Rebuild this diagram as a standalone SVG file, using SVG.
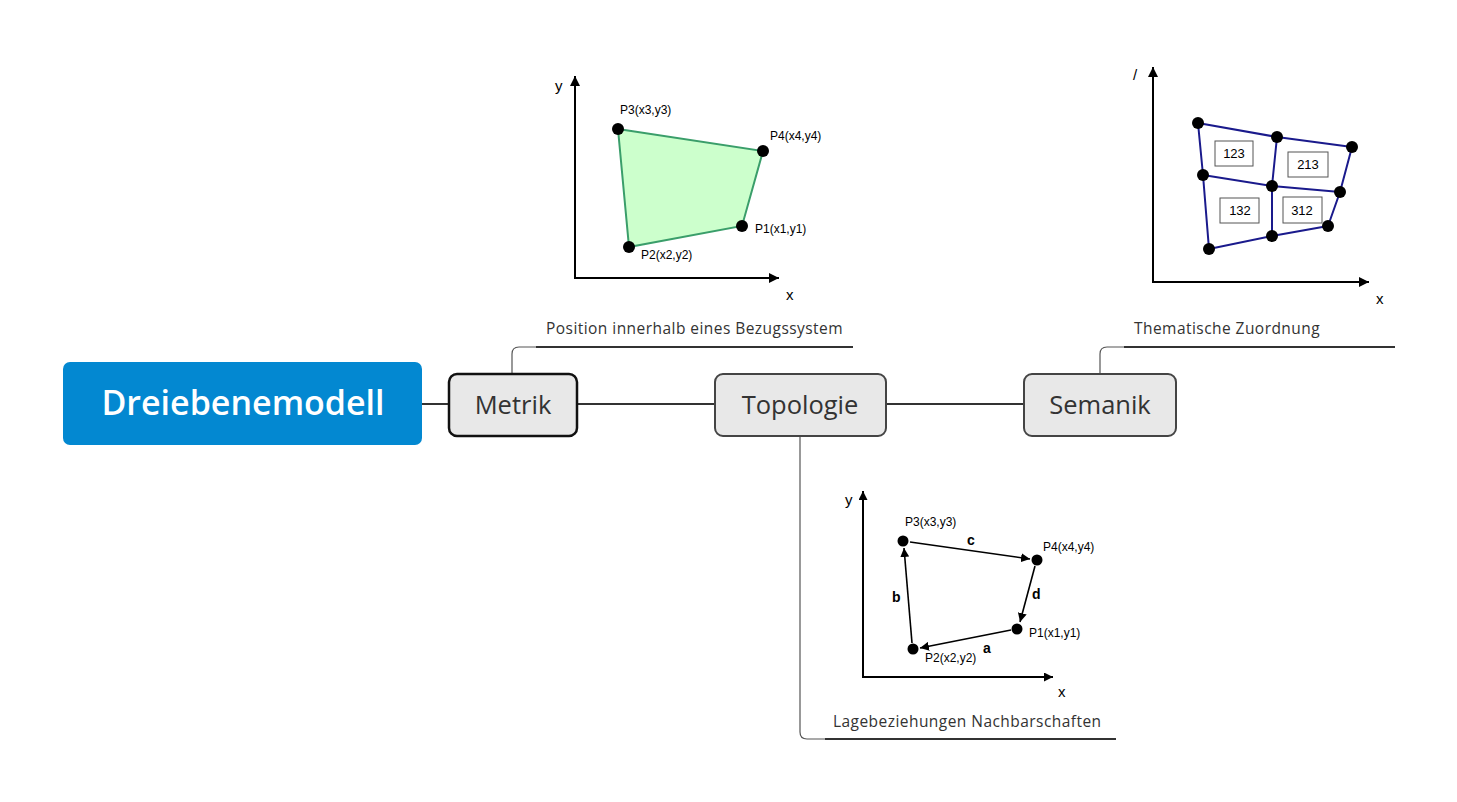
<svg xmlns="http://www.w3.org/2000/svg" width="1457" height="802" viewBox="0 0 1457 802">
<defs>
<style>
.topic{fill:#E8E8E8;stroke:#444;stroke-width:2}
.tt{font-family:"Open Sans","Noto Sans",sans-serif;font-size:25.5px;font-weight:500;fill:#333;text-anchor:middle}
.sub{font-family:"Open Sans","Noto Sans",sans-serif;font-size:15.5px;letter-spacing:0.45px;fill:#333}
.conn{stroke:#333;stroke-width:2;fill:none}
.thin{stroke:#555;stroke-width:1.2;fill:none}
.ax{stroke:#000;stroke-width:2;fill:none}
.lbl{font-family:"Liberation Sans",Arial,sans-serif;font-size:12px;fill:#000}
.axl{font-family:"Liberation Sans",Arial,sans-serif;font-size:15px;fill:#000}
.dot{fill:#000}
.nav{stroke:#1a1a8c;stroke-width:2;fill:none}
.cell{fill:#fff;stroke:#555;stroke-width:1}
.ct{font-family:"Liberation Sans",Arial,sans-serif;font-size:13px;fill:#000;text-anchor:middle}
.edge{stroke:#000;stroke-width:1.6;fill:none}
.el{font-family:"Liberation Sans",Arial,sans-serif;font-size:14px;font-weight:bold;fill:#000}
</style>
<marker id="ah" viewBox="0 0 10 10" refX="10" refY="5" markerWidth="10" markerHeight="10" markerUnits="userSpaceOnUse" orient="auto"><path d="M0,0 L10,5 L0,10 z" fill="#000"/></marker>
<marker id="ahs" viewBox="0 0 10 10" refX="10" refY="5" markerWidth="9" markerHeight="9" markerUnits="userSpaceOnUse" orient="auto"><path d="M0,0 L10,5 L0,10 z" fill="#000"/></marker>
</defs>
<rect width="1457" height="802" fill="#fff"/>

<g id="connectors">
<line class="conn" x1="422" y1="404" x2="449" y2="404"/>
<line class="conn" x1="577" y1="404" x2="715" y2="404"/>
<line class="conn" x1="886" y1="404" x2="1024" y2="404"/>
<path class="thin" d="M512,374 V354 Q512,347 519,347 H536"/>
<line class="conn" x1="536" y1="347" x2="853" y2="347"/>
<path class="thin" d="M1100,374 V354 Q1100,347 1107,347 H1124"/>
<line class="conn" x1="1124" y1="347" x2="1395" y2="347"/>
<path class="thin" d="M800,436 V732 Q800,739 807,739 H825"/>
<line class="conn" x1="825" y1="739" x2="1116" y2="739"/>
</g>

<g id="root">
<rect x="63" y="362" width="359" height="83" rx="7" fill="#0388D1"/>
<text x="243" y="415" font-family="'Open Sans','Noto Sans',sans-serif" font-size="34" font-weight="600" fill="#fff" text-anchor="middle">Dreiebenemodell</text>
</g>

<g id="metrik">
<rect x="449" y="374" width="128" height="62" rx="8" fill="#E8E8E8" stroke="#111" stroke-width="2.5"/>
<text class="tt" x="513" y="414">Metrik</text>
<text class="sub" x="546" y="334">Position innerhalb eines Bezugssystem</text>
</g>

<g id="topologie">
<rect class="topic" x="715" y="374" width="171" height="62" rx="8"/>
<text class="tt" x="800" y="414">Topologie</text>
<text class="sub" x="833" y="727">Lagebeziehungen Nachbarschaften</text>
</g>

<g id="semanik">
<rect class="topic" x="1024" y="374" width="152" height="62" rx="8"/>
<text class="tt" x="1100" y="414">Semanik</text>
<text class="sub" x="1134" y="334">Thematische Zuordnung</text>
</g>

<g id="metrik-figure">
<line class="ax" x1="575" y1="278" x2="575" y2="76" marker-end="url(#ah)"/>
<line class="ax" x1="574" y1="278" x2="779" y2="278" marker-end="url(#ah)"/>
<text class="axl" x="555" y="91">y</text>
<text class="axl" x="786" y="300">x</text>
<polygon points="618,129 763,151 742,226 629,247" fill="#CCFFCC" stroke="#3a9e6a" stroke-width="2"/>
<circle class="dot" cx="618" cy="129" r="6"/>
<circle class="dot" cx="763" cy="151" r="6"/>
<circle class="dot" cx="742" cy="226" r="6"/>
<circle class="dot" cx="629" cy="247" r="6"/>
<text class="lbl" x="620" y="114">P3(x3,y3)</text>
<text class="lbl" x="770" y="140">P4(x4,y4)</text>
<text class="lbl" x="755" y="233">P1(x1,y1)</text>
<text class="lbl" x="641" y="259">P2(x2,y2)</text>
</g>

<g id="semanik-figure">
<line class="ax" x1="1153" y1="282" x2="1153" y2="67" marker-end="url(#ah)"/>
<line class="ax" x1="1152" y1="282" x2="1369" y2="282" marker-end="url(#ah)"/>
<text class="axl" x="1133" y="80">/</text>
<text class="axl" x="1376" y="304">x</text>
<polyline class="nav" points="1198,123 1277,137 1352,147"/>
<polyline class="nav" points="1203,175 1272,186 1340,192"/>
<polyline class="nav" points="1209,249 1272,236 1328,226"/>
<polyline class="nav" points="1198,123 1203,175 1209,249"/>
<polyline class="nav" points="1277,137 1272,186 1272,236"/>
<polyline class="nav" points="1352,147 1340,192 1328,226"/>
<rect class="cell" x="1215" y="141" width="38" height="25"/>
<rect class="cell" x="1288" y="152" width="40" height="25"/>
<rect class="cell" x="1220" y="198" width="39" height="25"/>
<rect class="cell" x="1283" y="197" width="39" height="26"/>
<text class="ct" x="1234" y="158">123</text>
<text class="ct" x="1308" y="169">213</text>
<text class="ct" x="1240" y="215">132</text>
<text class="ct" x="1302" y="215">312</text>
<circle class="dot" cx="1198" cy="123" r="6"/>
<circle class="dot" cx="1277" cy="137" r="6"/>
<circle class="dot" cx="1352" cy="147" r="6"/>
<circle class="dot" cx="1203" cy="175" r="6"/>
<circle class="dot" cx="1272" cy="186" r="6"/>
<circle class="dot" cx="1340" cy="192" r="6"/>
<circle class="dot" cx="1209" cy="249" r="6"/>
<circle class="dot" cx="1272" cy="236" r="6"/>
<circle class="dot" cx="1328" cy="226" r="6"/>
</g>

<g id="topologie-figure">
<line class="ax" x1="863" y1="677" x2="863" y2="491" marker-end="url(#ahs)"/>
<line class="ax" x1="862" y1="677" x2="1053" y2="677" marker-end="url(#ahs)"/>
<text class="axl" x="845" y="505" font-size="13">y</text>
<text class="axl" x="1058" y="697" font-size="13">x</text>
<line class="edge" x1="910" y1="542" x2="1030" y2="559" marker-end="url(#ahs)"/>
<line class="edge" x1="1035" y1="566" x2="1020" y2="622" marker-end="url(#ahs)"/>
<line class="edge" x1="1011" y1="630" x2="920" y2="648" marker-end="url(#ahs)"/>
<line class="edge" x1="912" y1="643" x2="904" y2="548" marker-end="url(#ahs)"/>
<circle class="dot" cx="903" cy="541" r="5.5"/>
<circle class="dot" cx="1037" cy="560" r="5.5"/>
<circle class="dot" cx="1017" cy="629" r="5.5"/>
<circle class="dot" cx="913" cy="649" r="5.5"/>
<text class="lbl" x="905" y="526" font-size="11">P3(x3,y3)</text>
<text class="lbl" x="1043" y="551" font-size="11">P4(x4,y4)</text>
<text class="lbl" x="1029" y="637" font-size="11">P1(x1,y1)</text>
<text class="lbl" x="925" y="662" font-size="11">P2(x2,y2)</text>
<text class="el" x="967" y="545">c</text>
<text class="el" x="1032" y="599">d</text>
<text class="el" x="983" y="653">a</text>
<text class="el" x="892" y="602">b</text>
</g>
</svg>
